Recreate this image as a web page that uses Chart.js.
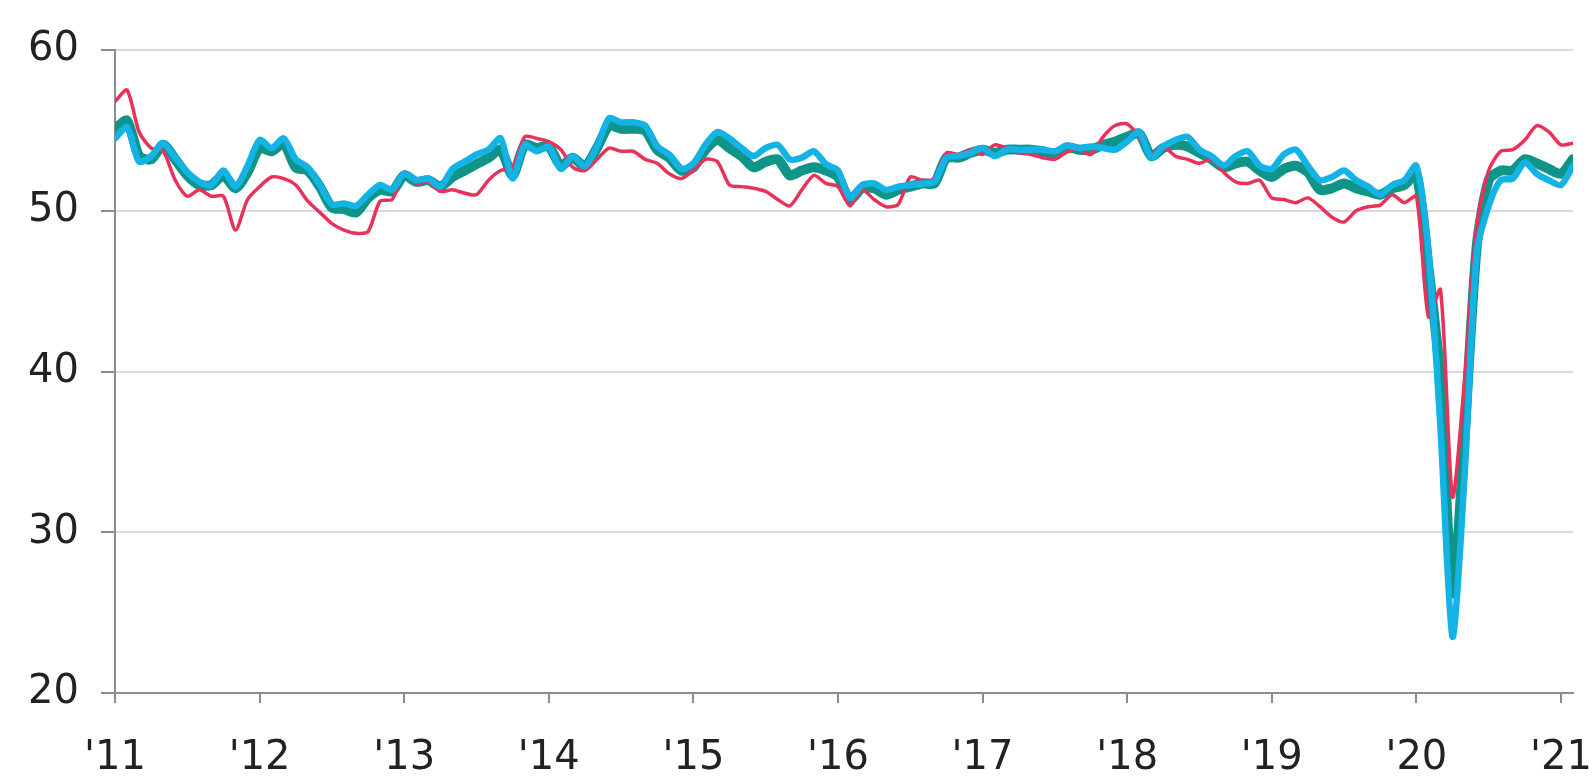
<!DOCTYPE html>
<html>
<head>
<meta charset="utf-8">
<script src="https://cdn.jsdelivr.net/npm/chart.js@4/dist/chart.umd.min.js"></script>
<style>
  html, body { margin: 0; padding: 0; background: #fff; }
  #wrap { width: 1592px; height: 778px; position: relative; }
</style>
</head>
<body>
<div id="wrap"><canvas id="pmiChart"></canvas></div>
<script>
// Monthly readings, Jan 2011 .. Feb 2021 (index 0 = Jan '11)
const yearLabels = ["'11", "'12", "'13", "'14", "'15", "'16", "'17", "'18", "'19", "'20", "'21"];
const yTicks = [20, 30, 40, 50, 60];

const redSeries = [
  56.8, 57.5, 54.9, 53.9, 53.7, 51.9, 50.9, 51.3, 50.9, 50.9, 48.8, 50.7,
  51.5, 52.1, 52.0, 51.6, 50.6, 49.9, 49.2, 48.8, 48.6, 48.7, 50.6, 50.7,
  52.4, 51.7, 51.8, 51.2, 51.3, 51.1, 51.0, 51.9, 52.5, 52.7, 54.6, 54.5,
  54.3, 53.8, 52.7, 52.5, 53.2, 53.9, 53.7, 53.7, 53.2, 52.95, 52.3, 52.0,
  52.5, 53.2, 53.05, 51.6, 51.5, 51.4, 51.2, 50.7, 50.3, 51.3, 52.2, 51.7,
  51.5, 50.3, 51.3, 50.7, 50.25, 50.4, 52.1, 51.9, 52.0, 53.6, 53.5, 53.8,
  53.5, 54.1, 53.9, 53.6, 53.5, 53.3, 53.2, 53.65, 53.8, 53.5, 54.6, 55.3,
  55.4, 54.6, 53.5, 54.0, 53.4, 53.2, 52.95, 53.2, 52.4, 51.8, 51.7, 51.9,
  50.8, 50.7, 50.5, 50.8, 50.25, 49.6, 49.3, 50.0, 50.25, 50.35, 51.0, 50.5,
  50.9, 43.4, 45.1, 32.2, 39.5, 49.0, 52.5, 53.7, 53.8, 54.4, 55.3, 54.9,
  54.1, 54.2
];

const tealSeries = [
  55.1, 55.6, 53.4, 53.2, 54.1, 53.2, 52.2, 51.6, 51.6, 52.2, 51.4, 52.4,
  53.9, 53.7, 54.2, 52.7, 52.5, 51.5, 50.2, 50.1, 49.9, 50.8, 51.3, 51.2,
  52.2, 51.8, 51.9, 51.5, 52.1, 52.5, 52.9, 53.3, 53.8, 52.2, 54.1, 53.9,
  54.0, 52.8, 53.3, 52.75, 53.9, 55.3, 55.1, 55.1, 55.0, 53.8, 53.3, 52.5,
  52.7, 53.8, 54.4, 53.9, 53.4, 52.7, 53.05, 53.2, 52.2, 52.5, 52.7, 52.5,
  52.1, 50.7, 51.4, 51.4, 51.0, 51.3, 51.5, 51.7, 51.7, 53.3, 53.3, 53.6,
  53.8, 53.6, 53.8, 53.8, 53.8, 53.7, 53.5, 53.95, 53.8, 53.8, 54.1, 54.3,
  54.6, 54.8, 53.4, 53.9, 54.1, 54.0, 53.6, 53.2, 52.7, 52.95, 53.05, 52.5,
  52.1, 52.6, 52.8, 52.4, 51.3, 51.4, 51.7, 51.4, 51.2, 51.0, 51.4, 51.6,
  52.3, 46.5, 39.5, 26.2, 36.0, 47.7, 51.9, 52.5, 52.5, 53.2, 52.95, 52.6,
  52.3, 53.2
];

const cyanSeries = [
  54.5, 55.2, 53.05, 53.4, 54.2, 53.3, 52.4, 51.8, 51.6, 52.5, 51.5, 52.8,
  54.4, 53.9, 54.5, 53.2, 52.7, 51.6, 50.4, 50.45, 50.3, 51.0, 51.6, 51.3,
  52.3, 51.9, 52.0, 51.5, 52.6, 53.05, 53.5, 53.8, 54.5, 52.0, 54.1, 53.7,
  54.0, 52.6, 53.4, 52.75, 54.0, 55.75, 55.5, 55.5, 55.3, 54.0, 53.5, 52.6,
  52.95, 54.1, 54.9, 54.5, 53.9, 53.4, 53.9, 54.1, 53.2, 53.3, 53.7, 52.9,
  52.5, 50.8, 51.6, 51.7, 51.3, 51.5, 51.6, 51.7, 51.8, 53.3, 53.4, 53.6,
  53.9, 53.4, 53.8, 53.8, 53.8, 53.8, 53.7, 54.05, 53.9, 54.0, 53.9, 53.8,
  54.3, 54.9, 53.3, 54.0, 54.4, 54.6, 53.8, 53.4, 52.8, 53.4, 53.7, 52.8,
  52.6, 53.5, 53.8, 52.8, 51.9, 52.1, 52.5, 51.9, 51.5, 51.0, 51.6, 51.9,
  52.8, 47.5, 36.5, 23.5, 33.5, 47.3, 50.3, 51.9, 52.0, 53.0, 52.3, 51.9,
  51.6, 52.8
];

const toPoints = (arr) => arr.map((v, i) => ({ x: i, y: v }));
const labelFont = { family: "'DejaVu Sans', 'Liberation Sans', sans-serif", size: 40 };

new Chart(document.getElementById('pmiChart'), {
  type: 'line',
  data: {
    datasets: [
      { data: toPoints(cyanSeries), borderColor: '#14b3e6', borderWidth: 6.5, order: 1 },
      { data: toPoints(redSeries), borderColor: '#e8325a', borderWidth: 3.5, order: 2 },
      { data: toPoints(tealSeries), borderColor: '#0f9488', borderWidth: 10, order: 3 }
    ]
  },
  options: {
    responsive: true,
    maintainAspectRatio: false,
    animation: false,
    devicePixelRatio: 1,
    layout: { padding: { top: 50, right: 19, left: 0, bottom: 0 } },
    elements: {
      point: { radius: 0 },
      line: { tension: 0.25, borderCapStyle: 'round', borderJoinStyle: 'round' }
    },
    plugins: { legend: { display: false }, tooltip: { enabled: false } },
    scales: {
      x: {
        type: 'linear',
        min: 0,
        max: cyanSeries.length - 1,
        afterFit: (scale) => {
          scale.height = 85;
          // let the last label hang past the edge, as in the original
          scale.paddingLeft = 0;
          scale.paddingRight = 0;
        },
        border: { display: true, color: '#8c8c8c', width: 2 },
        grid: { drawOnChartArea: false, drawTicks: true, tickLength: 10, tickColor: '#8c8c8c', lineWidth: 2 },
        ticks: {
          stepSize: 12,
          includeBounds: false,
          autoSkip: false,
          maxRotation: 0,
          padding: 32,
          color: '#222',
          font: labelFont,
          callback: (v) => yearLabels[v / 12]
        }
      },
      y: {
        min: 20,
        max: 60,
        afterFit: (scale) => { scale.width = 115; },
        border: { display: true, color: '#8c8c8c', width: 2 },
        grid: { color: '#dadada', lineWidth: 2, tickLength: 14, tickColor: '#8c8c8c' },
        afterBuildTicks: (scale) => { scale.ticks = yTicks.map(v => ({ value: v })); },
        ticks: {
          padding: 22,
          color: '#222',
          font: labelFont
        }
      }
    }
  }
});
</script>
</body>
</html>
